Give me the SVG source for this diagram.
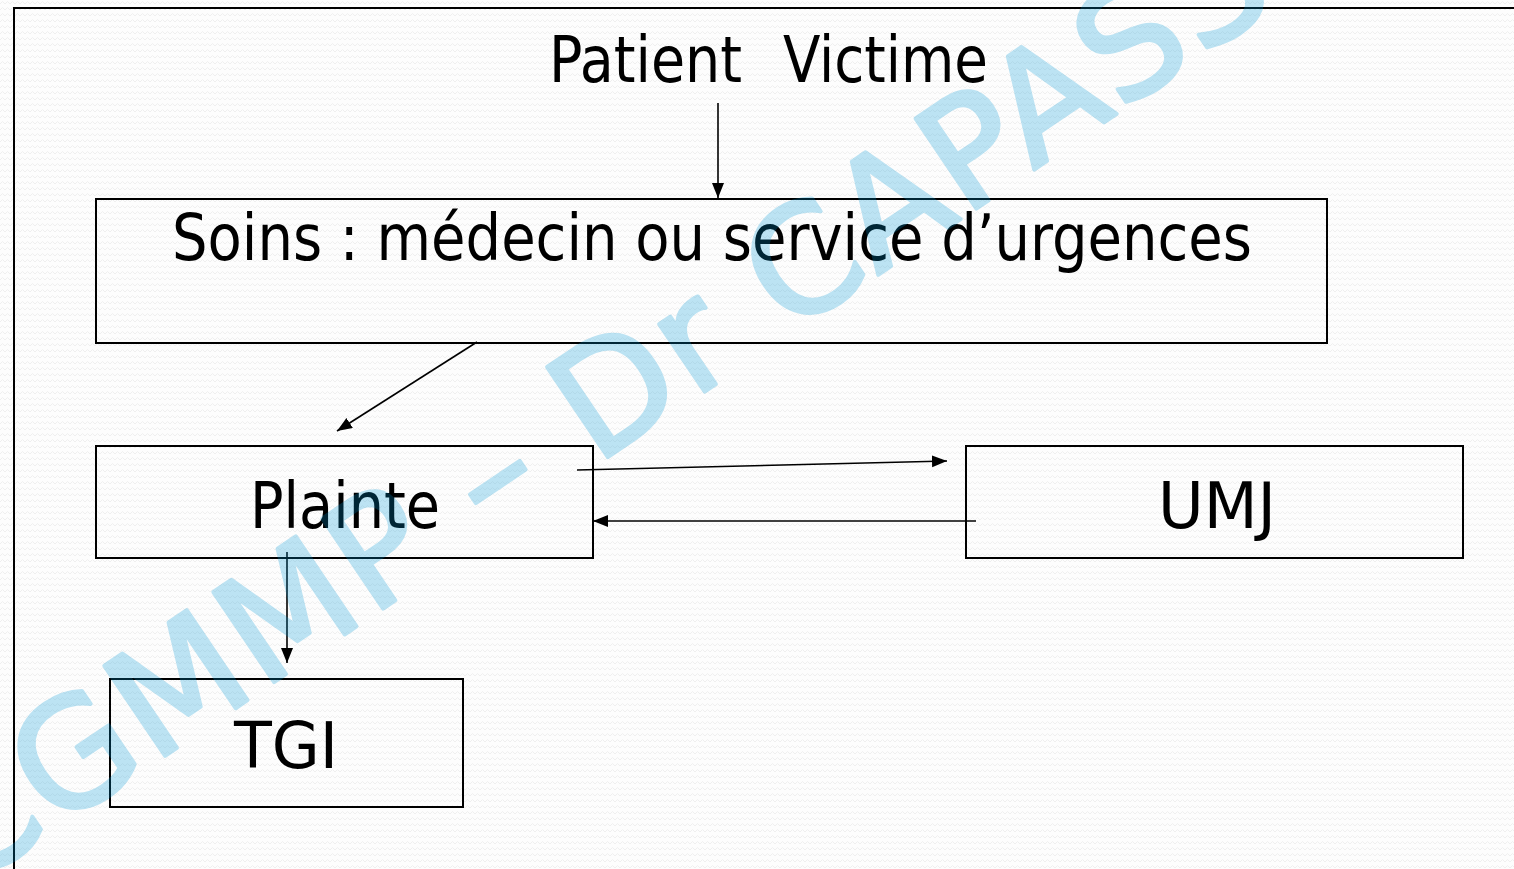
<svg xmlns="http://www.w3.org/2000/svg" width="1514" height="869" viewBox="0 0 1514 869">
<style>
.box{fill:none;stroke:#000;stroke-width:2}
.lbl{font-family:'DejaVu Sans Condensed','DejaVu Sans',sans-serif;font-stretch:condensed;font-size:64px;fill:#000}
.con{stroke:#000;stroke-width:1.6;fill:none;marker-end:url(#ah)}
.wm{font-family:'DejaVu Sans',Verdana,sans-serif;font-size:149px;letter-spacing:3px;fill:#0099d8;stroke:#0099d8;stroke-width:4;stroke-linejoin:round;opacity:0.25}
</style>
<defs>
<marker id="ah" markerUnits="userSpaceOnUse" markerWidth="16" markerHeight="14" refX="15" refY="6" orient="auto">
<path d="M0,0 L15,6 L0,12 z" fill="#000"/>
</marker>
<pattern id="bg" width="10" height="6" patternUnits="userSpaceOnUse">
<rect width="10" height="6" fill="#fdfdfd"/>
<path d="M0,4 L2.5,1.5 L5,4 L7.5,1.5 L10,4" fill="none" stroke="#efefef" stroke-width="1"/>
</pattern>
</defs>
<rect width="1514" height="869" fill="url(#bg)"/>
<path d="M14,869 L14,8 L1514,8" fill="none" stroke="#000" stroke-width="2"/>
<g id="patient">
<text class="lbl" y="82"><tspan x="549" textLength="193" lengthAdjust="spacingAndGlyphs">Patient</tspan><tspan x="783" textLength="205" lengthAdjust="spacingAndGlyphs">Victime</tspan></text>
</g>
<g id="soins">
<rect class="box" x="96" y="199" width="1231" height="144"/>
<text class="lbl" x="172" y="260" textLength="1080" lengthAdjust="spacingAndGlyphs">Soins : médecin ou service d’urgences</text>
</g>
<g id="plainte">
<rect class="box" x="96" y="446" width="497" height="112"/>
<text class="lbl" x="250" y="528" textLength="190" lengthAdjust="spacingAndGlyphs">Plainte</text>
</g>
<g id="umj">
<rect class="box" x="966" y="446" width="497" height="112"/>
<text class="lbl" x="1158" y="528" textLength="118" lengthAdjust="spacingAndGlyphs">UMJ</text>
</g>
<g id="tgi">
<rect class="box" x="110" y="679" width="353" height="128"/>
<text class="lbl" x="234" y="768" textLength="104" lengthAdjust="spacingAndGlyphs">TGI</text>
</g>
<g id="connectors">
<line class="con" x1="718" y1="103" x2="718" y2="198"/>
<line class="con" x1="477" y1="342" x2="337" y2="431"/>
<line class="con" x1="577" y1="470" x2="947" y2="461"/>
<line class="con" x1="976" y1="521" x2="593" y2="521"/>
<line class="con" x1="287" y1="552" x2="287" y2="663"/>
</g>
<g id="watermark">
<text class="wm" transform="translate(-34,890) rotate(-34)">CGMMP – Dr CAPASSO</text>
</g>
</svg>
